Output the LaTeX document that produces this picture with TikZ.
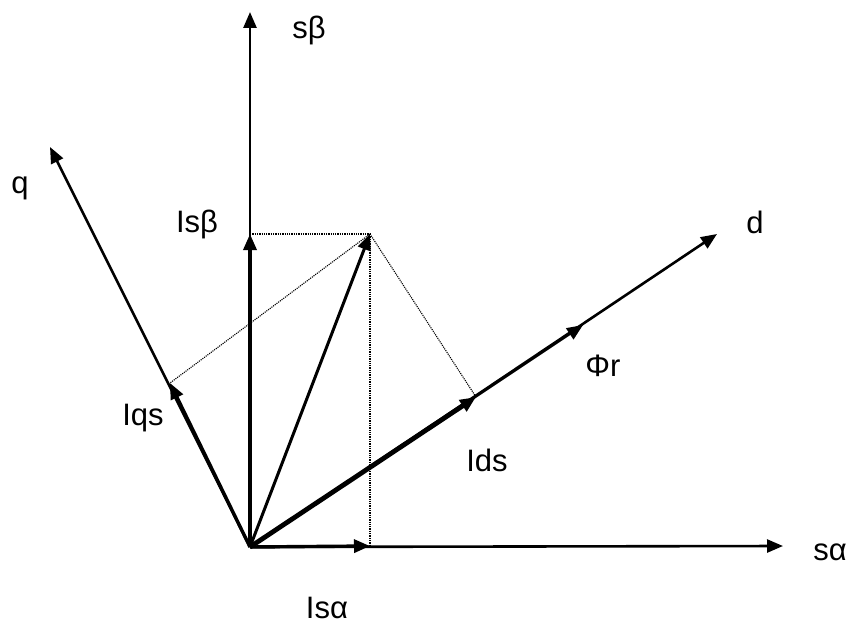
\documentclass[tikz,border=0pt]{standalone}
\usepackage{fontspec}
\setmainfont{Liberation Sans}
\usetikzlibrary{arrows.meta}
\begin{document}
\begin{tikzpicture}[x=1pt,y=-1pt,
  tip/.style={-{Triangle[length=16pt,width=13pt]}},
  axis/.style={tip,line width=2.6pt},
  vec/.style={tip,line width=3.4pt},
  bigvec/.style={tip,line width=4.8pt},
  proj/.style={densely dotted,line width=1.3pt},
  lbl/.style={anchor=base,inner sep=0pt,font=\fontsize{31}{34}\selectfont}]
\useasboundingbox (0,0) rectangle (848,623);
% points
\coordinate (O) at (250,547);
\coordinate (Sa) at (783,546);
\coordinate (Sb) at (250,12);
\coordinate (Q) at (50,147);
\coordinate (D) at (717,234);
\coordinate (Phi) at (583,325);
\coordinate (Is) at (370,234);
\coordinate (Isa) at (370,546);
\coordinate (Isb) at (250,234);
\coordinate (Iqs) at (170,383);
\coordinate (Ids) at (476,397);
% axes
\draw[axis] (O) -- (Sa);
\draw[axis] (O) -- (Sb);
\draw[axis] (O) -- (Q);
\draw[axis] (O) -- (D);
\draw[axis] (O) -- (Phi);
% projections
\draw[proj] (Isb) -- (Is);
\draw[proj] (Is) -- (Isa);
\draw[proj,line width=1.1pt] (Is) -- (Iqs);
\draw[proj,line width=1.1pt] (Is) -- (Ids);
% vectors
\draw[vec] (O) -- (Isa);
\draw[vec] (O) -- (Isb);
\draw[vec] (O) -- (Iqs);
\draw[bigvec] (O) -- (Ids);
\draw[tip,line width=3pt] (O) -- (Is);
% labels
\node[lbl] (lsb) at (309,39) {sβ};
\node[lbl] (lq) at (20,193) {q};
\node[lbl] (lisb) at (197,232) {Isβ};
\node[lbl] (ld) at (755,233) {d};
\node[lbl] (lphi) at (603,376) {Φr};
\node[lbl] (liqs) at (143,425) {Iqs};
\node[lbl] (lids) at (487,471) {Ids};
\node[lbl] (lisa) at (327,618) {Isα};
\node[lbl] (lsa) at (830,560) {sα};
\end{tikzpicture}
\end{document}
